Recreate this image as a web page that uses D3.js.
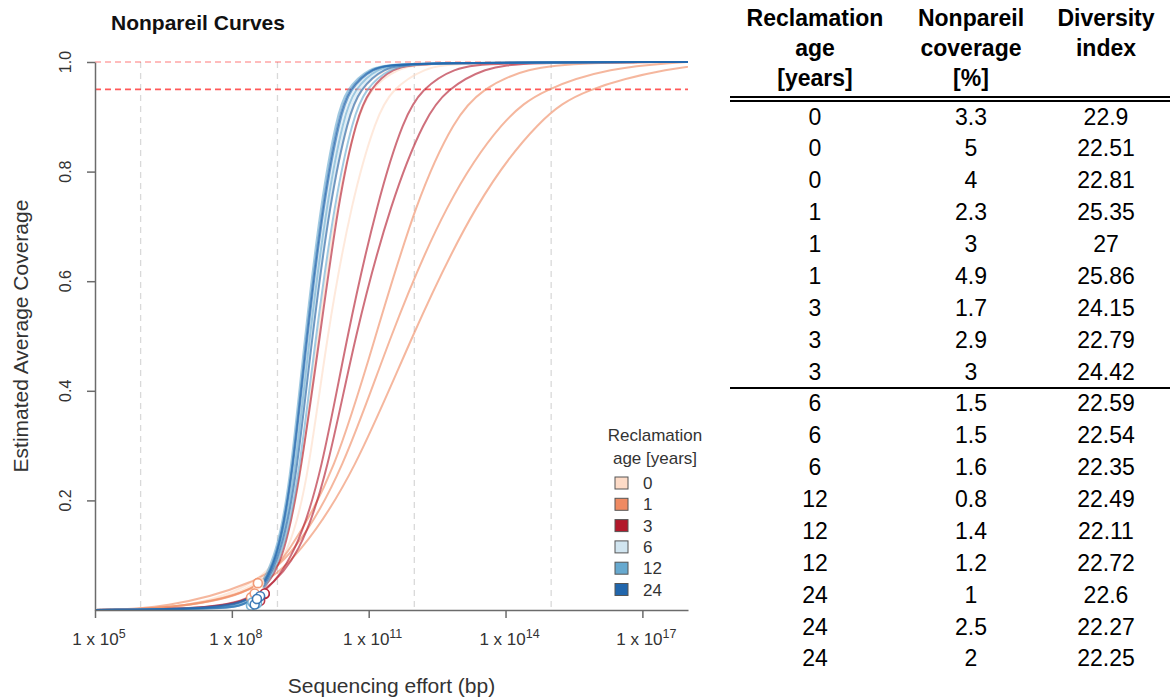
<!DOCTYPE html>
<html>
<head>
<meta charset="utf-8">
<title>Nonpareil Curves</title>
<script src="https://d3js.org/d3.v7.min.js"></script>
<style>
  body { margin: 0; background: #fff; }
  svg { font-family: "Liberation Sans", Arial, sans-serif; }
</style>
</head>
<body>
<svg id="chart" width="1170" height="700"></svg>
<script>
// table rows (one per sample)
const ages = [0, 0, 0, 1, 1, 1, 3, 3, 3, 6, 6, 6, 12, 12, 12, 24, 24, 24];
const coverage = [3.3, 5, 4, 2.3, 3, 4.9, 1.7, 2.9, 3, 1.5, 1.5, 1.6, 0.8, 1.4, 1.2, 1, 2.5, 2];
const diversity = ["22.9", "22.51", "22.81", "25.35", "27", "25.86", "24.15", "22.79", "24.42",
  "22.59", "22.54", "22.35", "22.49", "22.11", "22.72", "22.6", "22.27", "22.25"];

// actual sequencing effort of each sample (log10 bp), where the circle sits
const seqEffort = [8.55, 8.6, 8.58, 8.42, 8.5, 8.57, 8.62, 8.72, 8.72,
  8.55, 8.55, 8.52, 8.42, 8.45, 8.55, 8.5, 8.62, 8.55];

// fitted curve: effort (log10 bp) needed to reach each coverage level
const covLevels = [0.002, 0.1, 0.25, 0.5, 0.75, 0.9, 0.95, 0.99, 0.999];
const effortAtLevel = [
  [6.86, 9.27, 9.69, 10.08, 10.63, 11.17, 11.50, 12.23, 12.9],
  [7.08, 9.09, 9.42, 9.75, 10.15, 10.56, 10.80, 11.35, 12.0],
  [6.97, 9.16, 9.53, 9.88, 10.30, 10.76, 11.02, 11.63, 12.3],
  [6.42, 9.23, 10.26, 11.15, 12.05, 12.90, 13.47, 14.45, 15.8],
  [6.64, 9.49, 10.69, 11.94, 13.36, 14.78, 15.69, 17.6, 18.9],
  [6.53, 9.34, 10.43, 11.46, 12.72, 13.98, 14.81, 16.3, 17.8],
  [7.78, 9.40, 9.97, 10.52, 11.20, 11.78, 12.16, 12.85, 13.7],
  [7.74, 9.16, 9.51, 9.93, 10.34, 10.74, 11.02, 11.50, 12.2],
  [7.85, 9.49, 10.10, 10.69, 11.50, 12.24, 12.71, 13.55, 14.4],
  [7.88, 9.10, 9.42, 9.74, 10.14, 10.52, 10.76, 11.28, 11.9],
  [7.87, 9.08, 9.40, 9.72, 10.11, 10.48, 10.71, 11.22, 11.85],
  [7.85, 9.05, 9.36, 9.67, 10.05, 10.40, 10.62, 11.12, 11.75],
  [7.86, 9.07, 9.39, 9.70, 10.09, 10.45, 10.68, 11.18, 11.8],
  [7.80, 9.00, 9.30, 9.60, 9.96, 10.30, 10.50, 11.00, 11.6],
  [7.90, 9.14, 9.48, 9.84, 10.26, 10.66, 10.92, 11.45, 12.1],
  [7.88, 9.10, 9.43, 9.76, 10.16, 10.55, 10.80, 11.32, 11.95],
  [7.84, 9.03, 9.34, 9.65, 10.02, 10.37, 10.58, 11.08, 11.7],
  [7.82, 9.02, 9.33, 9.63, 10.00, 10.34, 10.55, 11.05, 11.65]
];

const ageGroups = [0, 1, 3, 6, 12, 24];
const ageColors = ["#fddbc7", "#ef8a62", "#b2182b", "#d1e5f0", "#67a9cf", "#2166ac"];
const xTickExp = [5, 8, 11, 14, 17];
const xGridExp = [6, 9, 12, 15];
const yTicks = [0.2, 0.4, 0.6, 0.8, 1.0];
const refLines = [1.0, 0.95];

const svg = d3.select('#chart');
const color = d3.scaleOrdinal().domain(ageGroups).range(ageColors);

// plot area
const pLeft = 95, pRight = 688, pTop = 62, pBottom = 610;
const x = d3.scaleLog().domain([1e5, 1e18]).range([pLeft, pRight]);
const y = d3.scaleLinear().domain([0, 1]).range([pBottom, pTop]);

svg.append('defs').append('clipPath').attr('id', 'plotclip')
  .append('rect').attr('x', pLeft).attr('y', pTop - 5)
  .attr('width', pRight - pLeft).attr('height', pBottom - pTop + 10);

// title
svg.append('text').attr('x', 198).attr('y', 30)
  .attr('text-anchor', 'middle').attr('font-size', 21).attr('font-weight', 'bold')
  .attr('fill', '#111').text('Nonpareil Curves');

// vertical grid
svg.append('g').selectAll('line').data(xGridExp).enter().append('line')
  .attr('x1', d => x(Math.pow(10, d))).attr('x2', d => x(Math.pow(10, d)))
  .attr('y1', pTop).attr('y2', pBottom)
  .attr('stroke', '#d9d9d9').attr('stroke-width', 1.3).attr('stroke-dasharray', '6,5');

// coverage reference lines
svg.append('g').selectAll('line').data(refLines).enter().append('line')
  .attr('x1', pLeft).attr('x2', pRight)
  .attr('y1', d => y(d)).attr('y2', d => y(d))
  .attr('stroke', '#ff0000').attr('stroke-opacity', (d, i) => i === 0 ? 0.35 : 0.65)
  .attr('stroke-width', 1.7).attr('stroke-dasharray', '6,4');

// curves
const line = d3.line()
  .x(d => x(Math.pow(10, d[0])))
  .y(d => y(d[1]))
  .curve(d3.curveBasis);

const curves = ages.map((a, i) => {
  let pts = effortAtLevel[i].map((e, j) => [e, covLevels[j]]);
  pts.push([seqEffort[i], coverage[i] / 100]);
  pts.push([5, 0]);
  if (effortAtLevel[i][covLevels.length - 1] < 18) pts.push([18, 1]);
  pts.sort((p, q) => p[0] - q[0]);
  return { age: a, pts: pts };
});

svg.append('g').attr('clip-path', 'url(#plotclip)')
  .selectAll('path').data(curves).enter().append('path')
  .attr('d', d => line(d.pts))
  .attr('fill', 'none')
  .attr('stroke', d => color(d.age))
  .attr('stroke-opacity', 0.62)
  .attr('stroke-width', 2);

// observed points
svg.append('g').selectAll('circle').data(ages).enter().append('circle')
  .attr('cx', (d, i) => x(Math.pow(10, seqEffort[i])))
  .attr('cy', (d, i) => y(coverage[i] / 100))
  .attr('r', 4.5)
  .attr('fill', '#fff')
  .attr('stroke', d => color(d))
  .attr('stroke-opacity', 0.85)
  .attr('stroke-width', 1.6);

// axes
const axisColor = '#6b6b6b';
const xAxis = svg.append('g').attr('transform', `translate(0,${pBottom})`)
  .call(d3.axisBottom(x).tickValues(xTickExp.map(e => Math.pow(10, e))).tickFormat('').tickSize(8).tickSizeOuter(0));
xAxis.select('.domain').attr('stroke', axisColor).attr('stroke-width', 1.5);
xAxis.selectAll('.tick line').attr('stroke', axisColor).attr('stroke-width', 1.5);

const xLab = svg.append('g').selectAll('text').data(xTickExp).enter().append('text')
  .attr('x', d => x(Math.pow(10, d)) + 4).attr('y', 645)
  .attr('text-anchor', 'middle').attr('font-size', 17).attr('fill', '#333');
xLab.append('tspan').text('1 x 10');
xLab.append('tspan').attr('dy', -7).attr('font-size', 12.5).text(d => d);

const yAxis = svg.append('g').attr('transform', `translate(${pLeft},0)`)
  .call(d3.axisLeft(y).tickValues(yTicks).tickFormat('').tickSize(8).tickSizeOuter(0));
yAxis.select('.domain').attr('stroke', axisColor).attr('stroke-width', 1.5);
yAxis.selectAll('.tick line').attr('stroke', axisColor).attr('stroke-width', 1.5);

svg.append('g').selectAll('text').data(yTicks).enter().append('text')
  .attr('transform', d => `translate(71,${y(d)}) rotate(-90)`)
  .attr('text-anchor', 'middle').attr('font-size', 16).attr('fill', '#333')
  .text(d => d.toFixed(1));

svg.append('text').attr('transform', `translate(28,${(pTop + pBottom) / 2}) rotate(-90)`)
  .attr('text-anchor', 'middle').attr('font-size', 21).attr('fill', '#333')
  .text('Estimated Average Coverage');

svg.append('text').attr('x', (pLeft + pRight) / 2).attr('y', 693)
  .attr('text-anchor', 'middle').attr('font-size', 21).attr('fill', '#333')
  .text('Sequencing effort (bp)');

// legend
const legend = svg.append('g');
legend.selectAll('text.title').data(['Reclamation', 'age [years]']).enter().append('text')
  .attr('class', 'title')
  .attr('x', 655).attr('y', (d, i) => 441 + i * 23)
  .attr('text-anchor', 'middle').attr('font-size', 17).attr('fill', '#333')
  .text(d => d);
const items = legend.selectAll('g.item').data(ageGroups).enter().append('g')
  .attr('class', 'item')
  .attr('transform', (d, i) => `translate(615,${483 + i * 21.3})`);
items.append('rect').attr('x', 0).attr('y', -6).attr('width', 13).attr('height', 12)
  .attr('fill', d => color(d)).attr('stroke', '#555').attr('stroke-width', 1);
items.append('text').attr('x', 28).attr('y', 6)
  .attr('font-size', 17).attr('fill', '#333').text(d => d);

// table
const colX = [815, 971, 1106];
const headers = [
  ['Reclamation', 'age', '[years]'],
  ['Nonpareil', 'coverage', '[%]'],
  ['Diversity', 'index']
];
const table = svg.append('g').attr('font-size', 23).attr('fill', '#000');
headers.forEach((h, c) => {
  table.selectAll(null).data(h).enter().append('text')
    .attr('x', colX[c]).attr('y', (d, i) => 26 + i * 30)
    .attr('text-anchor', 'middle').attr('font-weight', 'bold')
    .text(d => d);
});
table.append('line').attr('x1', 730).attr('x2', 1170).attr('y1', 97).attr('y2', 97)
  .attr('stroke', '#000').attr('stroke-width', 2);
table.append('line').attr('x1', 730).attr('x2', 1170).attr('y1', 101).attr('y2', 101)
  .attr('stroke', '#000').attr('stroke-width', 2);

const rowY = i => 124.5 + i * 31.875;
const rows = table.selectAll('g.row').data(ages).enter().append('g').attr('class', 'row');
rows.append('text').attr('x', colX[0]).attr('y', (d, i) => rowY(i)).attr('text-anchor', 'middle').text(d => d);
rows.append('text').attr('x', colX[1]).attr('y', (d, i) => rowY(i)).attr('text-anchor', 'middle').text((d, i) => coverage[i]);
rows.append('text').attr('x', colX[2]).attr('y', (d, i) => rowY(i)).attr('text-anchor', 'middle').text((d, i) => diversity[i]);

table.append('line').attr('x1', 730).attr('x2', 1170).attr('y1', 388).attr('y2', 388)
  .attr('stroke', '#000').attr('stroke-width', 2);
</script>
</body>
</html>
